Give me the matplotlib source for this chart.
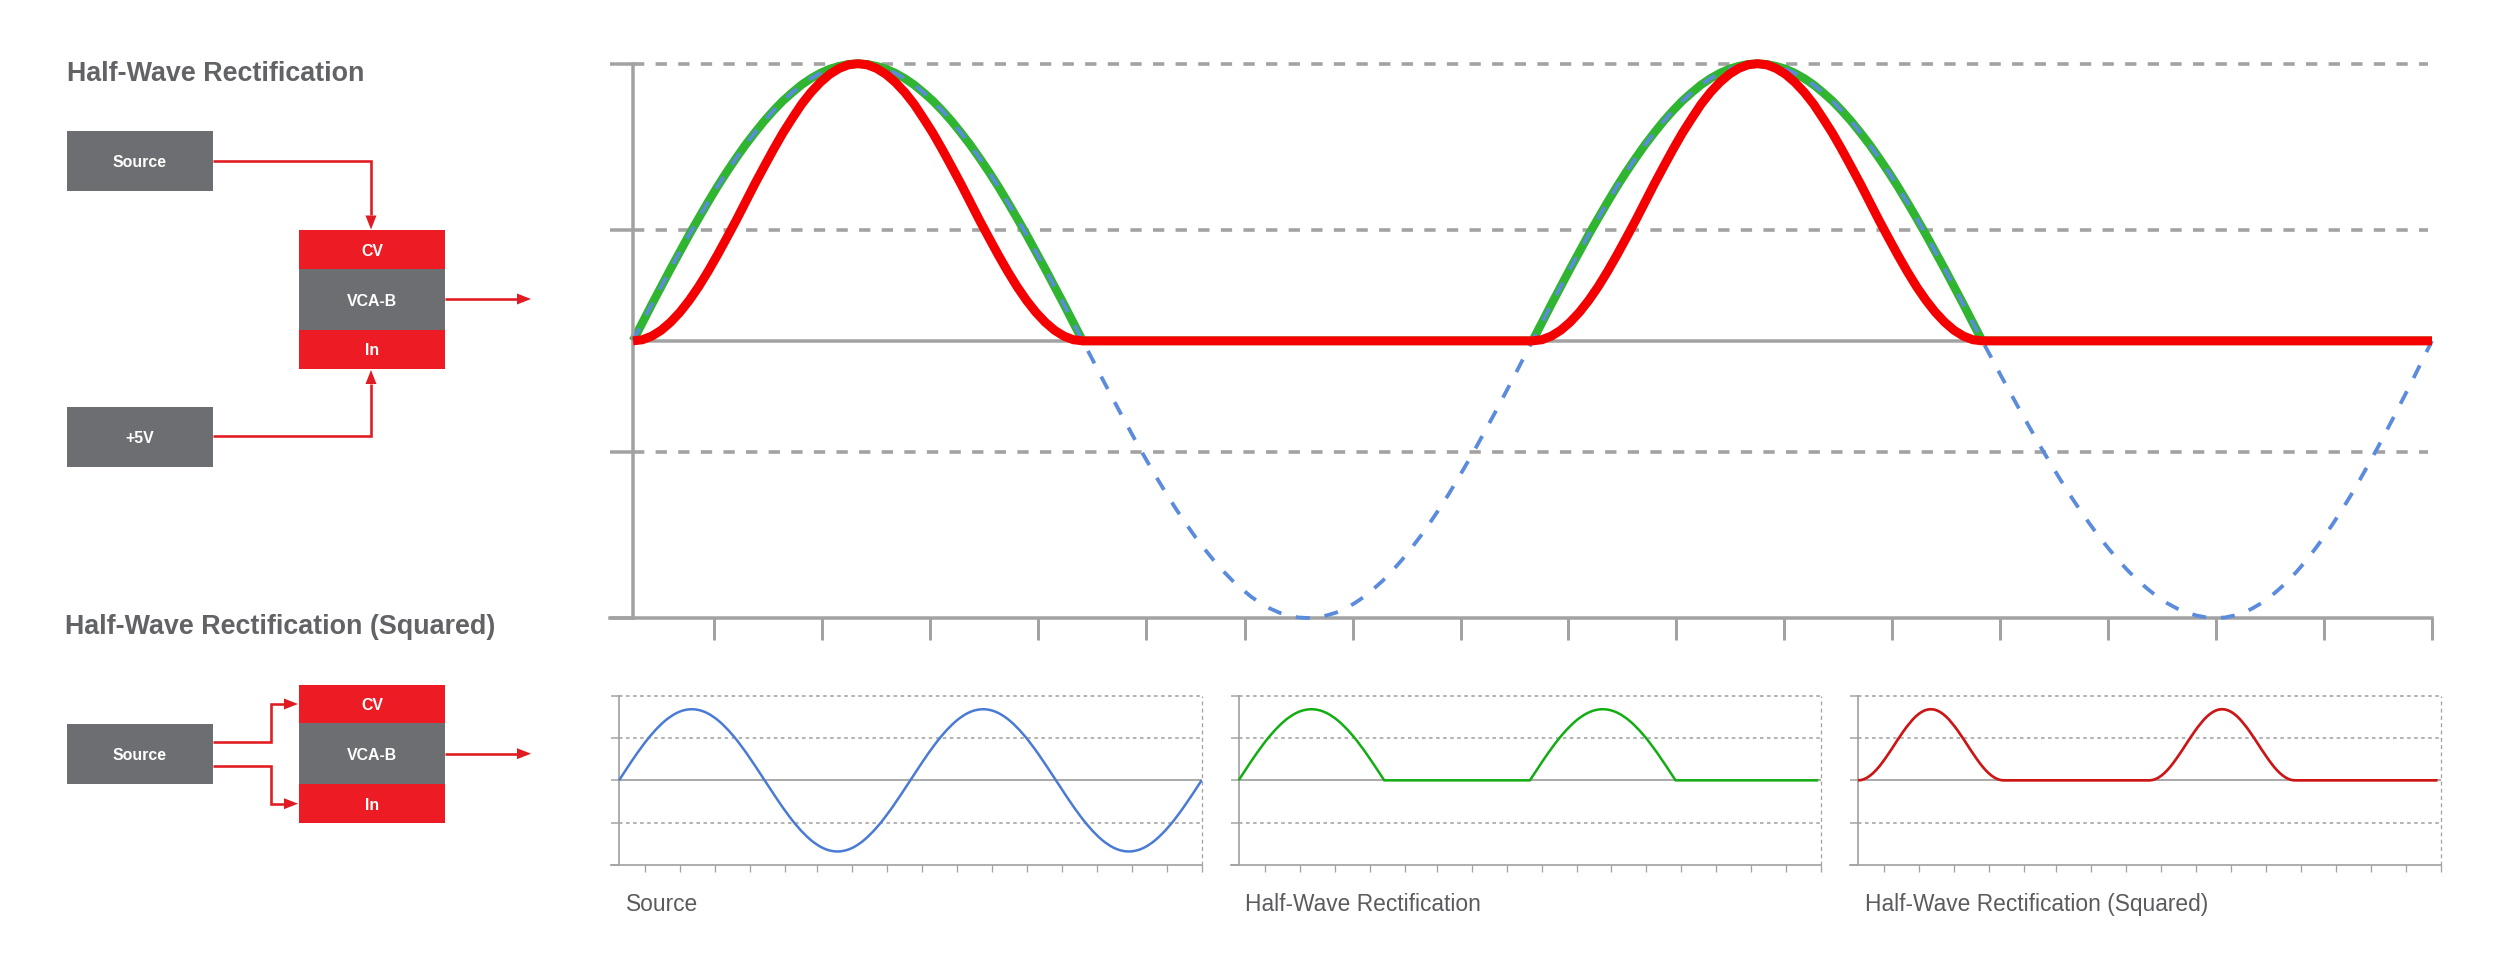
import numpy as np
import matplotlib
matplotlib.use("Agg")
import matplotlib.pyplot as plt
from matplotlib.patches import Rectangle, Polygon

plt.rcParams['font.family'] = ['Liberation Sans', 'DejaVu Sans']

# ---------- data ----------
arch = [0, .065, .131, .195, .259, .321, .383, .442, .5, .556, .609, .659, .707, .751, .793, .831, .866, .896, .924, .947, .966, .981, .991, .998, 1,
        .998, .991, .981, .966, .947, .924, .896, .866, .831, .793, .751, .707, .659, .609, .556, .5, .442, .383, .321, .259, .195, .131, .065, 0]
dip = [0, -.065, -.131, -.195, -.259, -.321, -.383, -.442, -.5, -.556, -.609, -.659, -.707, -.751, -.793, -.831, -.866, -.896, -.924, -.947, -.966, -.981, -.991, -.998, -1,
       -.998, -.991, -.981, -.966, -.947, -.924, -.896, -.866, -.831, -.793, -.751, -.707, -.659, -.609, -.556, -.5, -.442, -.383, -.321, -.259, -.195, -.131, -.065, 0]
bump = [0, .004, .017, .038, .067, .103, .146, .195, .25, .309, .371, .434, .5, .566, .629, .691, .75, .803, .854, .897, .933, .962, .983, .996, 1,
        .996, .983, .962, .933, .897, .854, .803, .75, .691, .629, .566, .5, .434, .371, .309, .25, .195, .146, .103, .067, .038, .017, .004, 0]
rest = [0] * 49
source = arch[:-1] + dip[:-1] + arch[:-1] + dip
halfwave = arch[:-1] + rest[:-1] + arch[:-1] + rest
squared = bump[:-1] + rest[:-1] + bump[:-1] + rest
time = np.arange(len(source)) / 48
# dashed source curve in the large chart: its last trough sits a little late
main_time_from = [0, 3, 3.5, 4]
main_time_to = [0, 3, 3.52, 4]
x_ticks = [.18, .42, .66, .90, 1.14, 1.36, 1.60, 1.84, 2.08, 2.32, 2.56, 2.80, 3.04, 3.28, 3.52, 3.76, 4.0]
main_dashed = [1, .4, -.4]
main_yticks = [1, .4, -.4, -1]
small_dashed = [1.19, .6, -.6]
small_yticks = [1.19, .6, 0, -.6, -1.19]
title_top = "Half-Wave Rectification"
title_bottom = "Half-Wave Rectification (Squared)"
captions = ["Source", "Half-Wave Rectification", "Half-Wave Rectification (Squared)"]
box_labels = ["Source", "+5V", "CV", "VCA-B", "In"]

# ---------- style ----------
W, H = 2500, 976
GREY = '#a2a2a2'
BOX = '#6d6e71'
RED_BOX = '#ed1c24'
WIRE = '#e01b22'
TEXT = '#626366'
CAP = '#5a5b5d'
BLUE = '#5b8bdc'
GREEN = '#2fb52f'
RED = '#f50000'
SHIFT = 1


def pt(px):
    return px * 72 / 100


fig = plt.figure(figsize=(W / 100, H / 100), dpi=100, facecolor='white')


def px_axes(x0, y0, x1, y1):
    y0 -= SHIFT
    y1 -= SHIFT
    return fig.add_axes([x0 / W, 1 - y1 / H, (x1 - x0) / W, (y1 - y0) / H])


# ---------- diagram layer ----------
ov = fig.add_axes([0, 0, 1, 1], zorder=0)
ov.set_xlim(0, W)
ov.set_ylim(H + SHIFT, SHIFT)
ov.axis('off')


def box(x0, y0, x1, y1, color, label):
    ov.add_patch(Rectangle((x0, y0), x1 - x0, y1 - y0, fc=color, ec='none'))
    ov.text((x0 + x1) / 2, (y0 + y1) / 2, label, color='white', fontsize=11.4,
            fontweight='bold', ha='center', va='center_baseline')


def wire(xs, ys, head=14, half=5.5):
    x0, y0, x1, y1 = xs[-2], ys[-2], xs[-1], ys[-1]
    d = np.hypot(x1 - x0, y1 - y0)
    ux, uy = (x1 - x0) / d, (y1 - y0) / d
    bx, by = x1 - ux * head, y1 - uy * head
    ov.plot(list(xs[:-1]) + [bx], list(ys[:-1]) + [by], color=WIRE, lw=pt(2.6),
            solid_joinstyle='miter', solid_capstyle='butt')
    ov.add_patch(Polygon([(x1, y1), (bx - uy * half, by + ux * half), (bx + uy * half, by - ux * half)],
                         fc=WIRE, ec='none'))


ov.text(67, 82, title_top, fontsize=19.4, fontweight='bold', color=TEXT, va='baseline')
ov.text(65, 635, title_bottom, fontsize=19.4, fontweight='bold', color=TEXT, va='baseline')

box(67, 132, 213, 192.5, BOX, box_labels[0])
box(67, 408, 213, 468.5, BOX, box_labels[1])
box(299, 231.5, 445, 270.5, RED_BOX, box_labels[2])
box(299, 270.5, 445, 331, BOX, box_labels[3])
box(299, 331, 445, 370, RED_BOX, box_labels[4])
wire([213, 371, 371], [162, 162, 230.5])
wire([213, 371, 371], [437, 437, 371])
wire([445, 531], [300, 300])

box(66.5, 725, 213, 785.5, BOX, box_labels[0])
box(299, 686, 445, 724.5, RED_BOX, box_labels[2])
box(299, 724.5, 445, 785.5, BOX, box_labels[3])
box(299, 785.5, 445, 824, RED_BOX, box_labels[4])
wire([213, 271, 271, 298], [742.7, 742.7, 705, 705])
wire([213, 271, 271, 298], [767, 767, 804.7, 804.7])
wire([445, 531], [754.7, 754.7])

for x, c in zip([626, 1245, 1865], captions):
    ov.text(x, 912, c, fontsize=16.35, color=CAP, va='baseline')


# ---------- main chart ----------
ax = px_axes(610, 64.7, 2432, 619)
ax.set_xlim(-23 / 449.75, 4)
ax.set_ylim(-1, 1)
ax.patch.set_alpha(0)
for s in ('top', 'right'):
    ax.spines[s].set_visible(False)
ax.spines['left'].set_position(('data', 0))
for s in ('left', 'bottom'):
    ax.spines[s].set_color(GREY)
    ax.spines[s].set_linewidth(pt(3.5))
ax.set_xticks(x_ticks)
ax.set_yticks(main_yticks)
ax.set_xticklabels([])
ax.set_yticklabels([])
ax.tick_params(axis='x', length=pt(22), width=pt(3), color=GREY)
ax.tick_params(axis='y', length=pt(23), width=pt(3.5), color=GREY)
ax.hlines(main_dashed, 0, 3.99, colors=GREY, lw=pt(3.6), linestyles=(0, (3.14, 3.14)), zorder=1, clip_on=False)
ax.plot([0, 4], [0, 0], color=GREY, lw=pt(3.5), zorder=1.5, solid_capstyle='butt')
ax.plot(time, halfwave, color=GREEN, lw=pt(8.5), zorder=2, clip_on=False, solid_capstyle='butt')
ax.plot(np.interp(time, main_time_from, main_time_to), source, color=BLUE, lw=pt(3.8), zorder=3,
        clip_on=False, linestyle=(0, (3.7, 3.9)))
ax.plot(time, squared, color=RED, lw=pt(9), zorder=4, clip_on=False, solid_capstyle='butt', solid_joinstyle='round')


# ---------- small panels ----------
def panel(x_left, series, color, lw_px, stop):
    a = px_axes(x_left - 7.6, 696.7, x_left + 582.6, 866)
    a.set_xlim(-7.6 / 145.65, 4)
    a.set_ylim(-1.19, 1.19)
    a.patch.set_alpha(0)
    for s in ('top', 'right'):
        a.spines[s].set_visible(False)
    a.spines['left'].set_position(('data', 0))
    for s in ('left', 'bottom'):
        a.spines[s].set_color(GREY)
        a.spines[s].set_linewidth(pt(1.7))
    a.set_xticks(x_ticks)
    a.set_yticks(small_yticks)
    a.set_xticklabels([])
    a.set_yticklabels([])
    a.tick_params(axis='x', length=pt(7.3), width=pt(1.3), color=GREY)
    a.tick_params(axis='y', length=pt(7.6), width=pt(1.5), color=GREY)
    a.hlines(small_dashed, 0, 4, colors=GREY, lw=pt(1.6), linestyles=(0, (2.2, 2.2)), zorder=1, clip_on=False)
    a.vlines([4], -1.19, 1.19, colors=GREY, lw=pt(1.3), linestyles=(0, (3, 2.6)), zorder=1, clip_on=False)
    a.plot([0, 4], [0, 0], color=GREY, lw=pt(1.8), zorder=1.5, solid_capstyle='butt')
    a.plot(time[:stop], series[:stop], color=color, lw=pt(lw_px), zorder=3, clip_on=False, solid_capstyle='butt')


panel(619, source, '#4a7bd4', 2.5, len(source))
panel(1238.6, halfwave, '#12ad12', 2.5, len(source) - 1)
panel(1858, squared, '#cc1616', 2.7, len(source) - 1)

fig.savefig('out.png', dpi=100, facecolor='white')
